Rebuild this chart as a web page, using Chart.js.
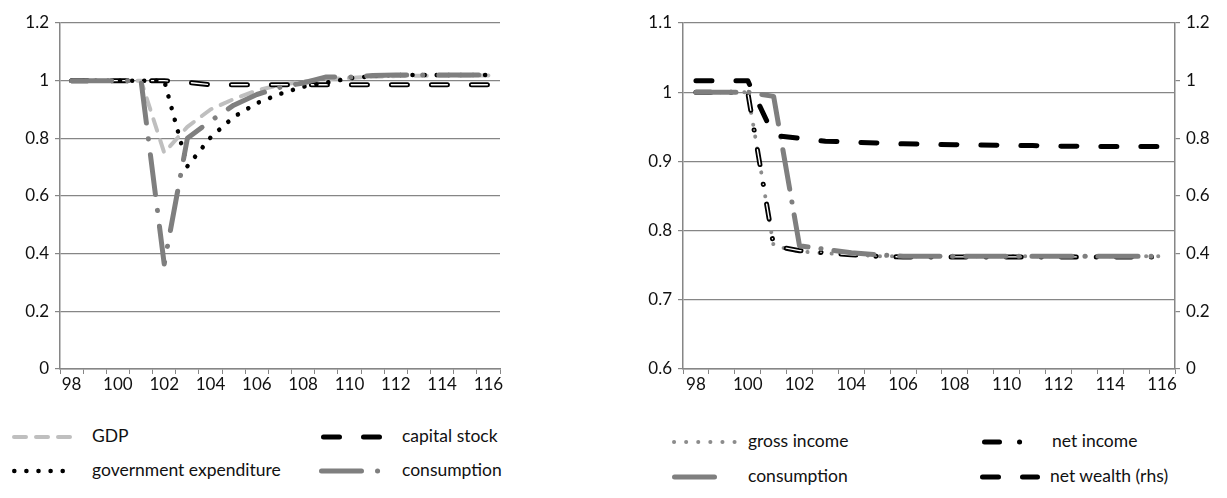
<!DOCTYPE html>
<html>
<head>
<meta charset="utf-8">
<title>Responses</title>
<script src="https://cdn.jsdelivr.net/npm/chart.js@4"></script>
<style>
  body { margin: 0; width: 1227px; height: 498px; overflow: hidden; position: relative; background: #fff; font-family: Lato, 'Open Sans', sans-serif; }
  .box { position: absolute; }
  .legend-text { position: absolute; font-size: 17.5px; line-height: 20px; color: #111; white-space: nowrap; }
</style>
</head>
<body>
<div class="box" style="left:0;top:0;width:520px;height:400px"><canvas id="left"></canvas></div>
<div class="box" style="left:590px;top:0;width:637px;height:400px"><canvas id="right"></canvas></div>

<script>
const years = ['98','99','100','101','102','103','104','105','106','107','108','109','110','111','112','113','114','115','116'];

// left panel
const gdp = [1, 1, 1, 1, 0.75, 0.84, 0.9, 0.936, 0.966, 0.985, 0.997, 1.005, 1.009, 1.014, 1.016, 1.017, 1.017, 1.018, 1.018];
const capitalStock = [1, 1, 1, 1, 1, 0.994, 0.986, 0.986, 0.986, 0.986, 0.986, 0.986, 0.986, 0.986, 0.986, 0.986, 0.986, 0.986, 0.986];
const govExpenditure = [1, 1, 1, 1, 1, 0.703, 0.803, 0.874, 0.922, 0.954, 0.979, 0.993, 1.008, 1.016, 1.02, 1.02, 1.02, 1.02, 1.02];
const consumptionLeft = [1, 1, 1, 1, 0.364, 0.8, 0.86, 0.915, 0.952, 0.977, 0.992, 1.013, 1.012, 1.018, 1.02, 1.02, 1.02, 1.02, 1.02];

// right panel
const grossIncome = [1, 1, 1, 0.778, 0.77, 0.767, 0.766, 0.763, 0.763, 0.763, 0.763, 0.763, 0.763, 0.763, 0.763, 0.763, 0.763, 0.763, 0.763];
const netIncome = [1, 1, 1, 0.778, 0.771, 0.768, 0.765, 0.763, 0.762, 0.762, 0.762, 0.762, 0.762, 0.762, 0.762, 0.762, 0.762, 0.762, 0.762];
const consumptionRight = [1, 1, 1, 0.994, 0.778, 0.773, 0.768, 0.765, 0.763, 0.763, 0.763, 0.763, 0.763, 0.763, 0.763, 0.763, 0.763, 0.763, 0.763];
const netWealth = [1, 1, 1, 0.81, 0.8, 0.79, 0.787, 0.784, 0.781, 0.779, 0.778, 0.777, 0.776, 0.775, 0.773, 0.772, 0.772, 0.772, 0.772];

const GRID = '#868686';
const TEXT = '#111';
Chart.defaults.font.family = "Lato, 'Open Sans', sans-serif";
Chart.defaults.font.size = 17;
Chart.defaults.color = TEXT;

function series(label, data, color, width, dash, order, axis) {
  return {
    label: label, data: data, borderColor: color, backgroundColor: color,
    borderWidth: width, borderDash: dash, borderCapStyle: 'round', borderJoinStyle: 'round',
    pointRadius: 0, tension: 0, fill: false, order: order, yAxisID: axis || 'y'
  };
}

// thin white line on top of a black one, gives the hollow look
function core(ds) {
  return series('', ds.data, '#fff', 1.4, ds.borderDash, ds.order - 0.5, ds.yAxisID);
}

function xAxis() {
  return {
    offset: true,
    grid: { offset: true, drawOnChartArea: false, tickLength: 5, color: GRID },
    border: { color: GRID, width: 1.5 },
    ticks: {
      autoSkip: false, maxRotation: 0, padding: 0,
      callback: function(v, i) { return i % 2 === 0 ? this.getLabelForValue(v) : ''; }
    },
    afterFit: s => { s.height = 31; }
  };
}

function yAxis(min, max, step, width, pos, onChart) {
  return {
    position: pos, min: min, max: max,
    grid: { color: GRID, tickLength: 5, drawOnChartArea: onChart, lineWidth: 1.2 },
    border: { color: GRID, width: 1.5 },
    ticks: { stepSize: step, padding: 6, callback: v => String(+v.toFixed(2)) },
    afterFit: s => { s.width = width; }
  };
}

const gdpDs = series('GDP', gdp, '#bfbfbf', 4, [12, 10], 4);
const capDs = series('capital stock', capitalStock, '#000', 5, [16, 24], 3);
const govDs = series('government expenditure', govExpenditure, '#000', 4.5, [0.1, 12], 2);
const conLDs = series('consumption', consumptionLeft, '#7f7f7f', 5, [40, 16, 0.1, 16], 1);

const grossDs = series('gross income', grossIncome, '#8c8c8c', 4, [0.1, 12], 4);
const netDs = series('net income', netIncome, '#000', 5, [15, 20, 0.1, 20], 3);
const conRDs = series('consumption', consumptionRight, '#7f7f7f', 5, [40, 13, 0.1, 13], 2);
const wealthDs = series('net wealth (rhs)', netWealth, '#000', 5, [16, 24], 1, 'y1');

const common = {
  responsive: true, maintainAspectRatio: false, animation: false,
  plugins: { legend: { display: false }, tooltip: { enabled: false } }
};

new Chart(document.getElementById('left'), {
  type: 'line',
  data: { labels: years, datasets: [gdpDs, capDs, core(capDs), govDs, conLDs] },
  options: Object.assign({}, common, {
    layout: { padding: { top: 23, right: 20, bottom: 0, left: 0 } },
    scales: { x: xAxis(), y: yAxis(0, 1.2, 0.2, 60, 'left', true) }
  })
});

new Chart(document.getElementById('right'), {
  type: 'line',
  data: { labels: years, datasets: [grossDs, netDs, core(netDs), conRDs, wealthDs] },
  options: Object.assign({}, common, {
    layout: { padding: { top: 23, right: 0, bottom: 0, left: 0 } },
    scales: {
      x: xAxis(),
      y: yAxis(0.6, 1.1, 0.1, 93, 'left', true),
      y1: yAxis(0, 1.2, 0.2, 52, 'right', false)
    }
  })
});

// legends in two columns, drawn with the same line styles
function legendItem(ds, x, w, tx, y) {
  const c = document.createElement('canvas');
  c.width = w; c.height = 14;
  c.style.cssText = 'position:absolute;left:' + x + 'px;top:' + (y - 7) + 'px';
  document.body.appendChild(c);
  const g = c.getContext('2d');
  g.strokeStyle = ds.borderColor;
  g.lineWidth = ds.borderWidth;
  g.lineCap = 'round';
  g.setLineDash(ds.borderDash);
  g.beginPath();
  g.moveTo(ds.borderWidth / 2, 7);
  g.lineTo(w - ds.borderWidth / 2, 7);
  g.stroke();
  const t = document.createElement('div');
  t.className = 'legend-text';
  t.textContent = ds.label;
  t.style.left = tx + 'px';
  t.style.top = (y - 11) + 'px';
  document.body.appendChild(t);
}

legendItem(gdpDs, 12, 65, 92, 437);
legendItem(capDs, 321, 61, 402, 437);
legendItem(govDs, 12, 65, 92, 471);
legendItem(conLDs, 319, 72, 402, 471);

legendItem(grossDs, 672, 66, 748, 442);
legendItem(netDs, 982, 48, 1052, 442);
legendItem(conRDs, 672, 48, 748, 477);
legendItem(wealthDs, 980, 60, 1050, 477);
</script>
</body>
</html>
